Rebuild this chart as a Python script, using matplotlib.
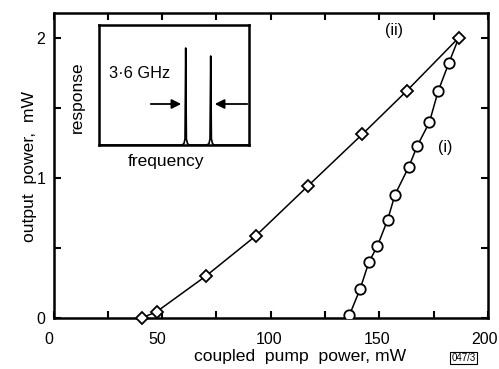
import matplotlib
matplotlib.use("Agg")
import matplotlib.pyplot as plt
from matplotlib.transforms import ScaledTranslation

plt.rcParams['font.family'] = ['Liberation Sans', 'DejaVu Sans']

# curve (ii): diamonds
pump_ii = [40.6, 47.5, 70.2, 93.1, 117.0, 142.1, 162.6, 186.6]
out_ii = [0.0, 0.045, 0.30, 0.586, 0.94, 1.31, 1.62, 2.00]

# curve (i): circles
pump_i = [136.2, 141.1, 145.2, 149.0, 153.8, 157.2, 163.6, 167.5, 173.0, 177.1, 182.0]
out_i = [0.02, 0.205, 0.40, 0.51, 0.70, 0.88, 1.08, 1.23, 1.395, 1.62, 1.82]

xticks_major = [0, 50, 100, 150, 200]
xticks_minor = [25, 75, 125, 175]
yticks_major = [0, 1, 2]
yticks_minor = [0.5, 1.5]

# inset spectrum (arbitrary units)
freq = [0, 83, 85, 86, 86.7, 87.4, 88.5, 90, 108, 110, 111, 111.7, 112.4, 113.5, 115, 150]
resp = [0, 0, 1.5, 6, 97, 6, 1.5, 0, 0, 1.5, 6, 89, 6, 1.5, 0, 0]

W, H = 499, 369
fig = plt.figure(figsize=(W / 100, H / 100), dpi=100)
L, R, T, B = 53.5, 488, 13, 318
ax = fig.add_axes([L / W, 1 - B / H, (R - L) / W, (B - T) / H])

lw = 1.1
ax.plot(pump_i + [pump_ii[-1]], out_i + [out_ii[-1]], color='black', lw=lw,
        marker='o', ms=7.5, mfc='white', mec='black', mew=1.3,
        markevery=list(range(len(pump_i))), zorder=3)
ax.plot(pump_ii, out_ii, color='black', lw=lw, marker='D', ms=6.5,
        mfc='white', mec='black', mew=1.3, zorder=4, clip_on=False)

ax.set_xlim(0, 200)
ax.set_ylim(0, (B - T) / 140.2)
ax.set_xticks(xticks_major)
ax.set_xticks(xticks_minor, minor=True)
ax.set_yticks(yticks_major)
ax.set_yticks(yticks_minor, minor=True)
ax.set_yticklabels([str(v) for v in yticks_major])
for which in ('major', 'minor'):
    ax.tick_params(axis='both', which=which, direction='in', length=5, width=1.5,
                   top=True, right=True, labelsize=11.5)
ax.tick_params(axis='x', which='major', pad=10)
ax.tick_params(axis='y', which='major', pad=6)
for s in ax.spines.values():
    s.set_linewidth(1.8)

shifts = [-5, -5, -2, -2.5, -4]
for lab, dx in zip(ax.get_xticklabels(), shifts):
    lab.set_transform(lab.get_transform() + ScaledTranslation(dx / 100, 0, fig.dpi_scale_trans))

fig.text(394 / W, 1 - 31 / H, '(ii)', fontsize=11.5, ha='center', va='center')
fig.text(445 / W, 1 - 147 / H, '(i)', fontsize=11.5, ha='center', va='center')

fig.text(300 / W, 1 - 356 / H, 'coupled  pump  power, mW', fontsize=12.6, ha='center', va='center')
fig.text(30 / W, 1 - 166 / H, 'output  power,  mW', fontsize=12.6, ha='center', va='center',
         rotation=90)
fig.text(463.5 / W, 1 - 358 / H, '047/3', fontsize=7, ha='center', va='center',
         bbox=dict(boxstyle='square,pad=0.15', fc='white', ec='black', lw=0.8))

# inset
iL, iR, iT, iB = 99, 249, 25, 145
ins = fig.add_axes([iL / W, 1 - iB / H, (iR - iL) / W, (iB - iT) / H])
ins.plot(freq, resp, color='black', lw=1.2)
ins.set_xlim(0, 150)
ins.set_ylim(0, 120)
ins.set_xticks([])
ins.set_yticks([])
for s in ins.spines.values():
    s.set_linewidth(1.8)
ins.annotate('', xy=(85, 41), xytext=(49, 41),
             arrowprops=dict(arrowstyle='-|>', color='black', lw=1.3, mutation_scale=14))
ins.annotate('', xy=(113, 41), xytext=(151, 41),
             arrowprops=dict(arrowstyle='-|>', color='black', lw=1.3, mutation_scale=14))
ins.text(41, 72, '3·6 GHz', fontsize=11.8, ha='center', va='center')
fig.text(77 / W, 1 - 97 / H, 'response', fontsize=12.5, ha='center', va='center', rotation=90)
fig.text(166 / W, 1 - 161 / H, 'frequency', fontsize=12.5, ha='center', va='center')

fig.savefig('out.png', dpi=100)
